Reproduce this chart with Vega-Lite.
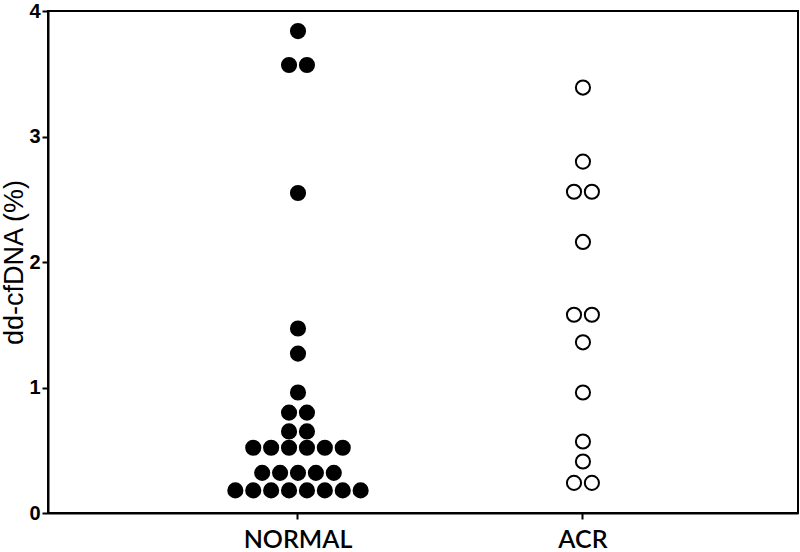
{
  "$schema": "https://vega.github.io/schema/vega-lite/v6.json",
  "width": 750,
  "height": 502,
  "autosize": "none",
  "padding": {"left": 48, "top": 11, "right": 2, "bottom": 39},
  "background": "white",
  "config": {
    "view": {"stroke": "black", "strokeWidth": 2},
    "axis": {
      "grid": false,
      "domainColor": "black",
      "domainWidth": 2,
      "tickColor": "black",
      "tickWidth": 2,
      "tickSize": 6,
      "labelColor": "black",
      "titleColor": "black"
    }
  },
  "data": {
    "values": [
      {"group": "NORMAL", "value": 3.84, "slot": 0},
      {"group": "NORMAL", "value": 3.57, "slot": -0.5},
      {"group": "NORMAL", "value": 3.57, "slot": 0.5},
      {"group": "NORMAL", "value": 2.55, "slot": 0},
      {"group": "NORMAL", "value": 1.47, "slot": 0},
      {"group": "NORMAL", "value": 1.27, "slot": 0},
      {"group": "NORMAL", "value": 0.96, "slot": 0},
      {"group": "NORMAL", "value": 0.8, "slot": -0.5},
      {"group": "NORMAL", "value": 0.8, "slot": 0.5},
      {"group": "NORMAL", "value": 0.65, "slot": -0.5},
      {"group": "NORMAL", "value": 0.65, "slot": 0.5},
      {"group": "NORMAL", "value": 0.52, "slot": -2.5},
      {"group": "NORMAL", "value": 0.52, "slot": -1.5},
      {"group": "NORMAL", "value": 0.52, "slot": -0.5},
      {"group": "NORMAL", "value": 0.52, "slot": 0.5},
      {"group": "NORMAL", "value": 0.52, "slot": 1.5},
      {"group": "NORMAL", "value": 0.52, "slot": 2.5},
      {"group": "NORMAL", "value": 0.32, "slot": -2},
      {"group": "NORMAL", "value": 0.32, "slot": -1},
      {"group": "NORMAL", "value": 0.32, "slot": 0},
      {"group": "NORMAL", "value": 0.32, "slot": 1},
      {"group": "NORMAL", "value": 0.32, "slot": 2},
      {"group": "NORMAL", "value": 0.18, "slot": -3.5},
      {"group": "NORMAL", "value": 0.18, "slot": -2.5},
      {"group": "NORMAL", "value": 0.18, "slot": -1.5},
      {"group": "NORMAL", "value": 0.18, "slot": -0.5},
      {"group": "NORMAL", "value": 0.18, "slot": 0.5},
      {"group": "NORMAL", "value": 0.18, "slot": 1.5},
      {"group": "NORMAL", "value": 0.18, "slot": 2.5},
      {"group": "NORMAL", "value": 0.18, "slot": 3.5},
      {"group": "ACR", "value": 3.39, "slot": 0},
      {"group": "ACR", "value": 2.8, "slot": 0},
      {"group": "ACR", "value": 2.56, "slot": -0.5},
      {"group": "ACR", "value": 2.56, "slot": 0.5},
      {"group": "ACR", "value": 2.16, "slot": 0},
      {"group": "ACR", "value": 1.58, "slot": -0.5},
      {"group": "ACR", "value": 1.58, "slot": 0.5},
      {"group": "ACR", "value": 1.36, "slot": 0},
      {"group": "ACR", "value": 0.96, "slot": 0},
      {"group": "ACR", "value": 0.57, "slot": 0},
      {"group": "ACR", "value": 0.41, "slot": 0},
      {"group": "ACR", "value": 0.24, "slot": -0.5},
      {"group": "ACR", "value": 0.24, "slot": 0.5}
    ]
  },
  "mark": {"type": "circle", "size": 200, "stroke": "black", "strokeWidth": 2, "opacity": 1},
  "encoding": {
    "x": {
      "field": "group",
      "type": "nominal",
      "sort": ["NORMAL", "ACR"],
      "scale": {"paddingInner": 0, "paddingOuter": 0.316, "align": 0.597},
      "axis": {"title": null, "labelAngle": 0, "labelFont": "Lato", "labelFontSize": 25, "labelFontWeight": 600, "labelPadding": 8}
    },
    "xOffset": {
      "field": "slot",
      "type": "quantitative",
      "scale": {"domain": [-7.96, 7.96]}
    },
    "y": {
      "field": "value",
      "type": "quantitative",
      "scale": {"domain": [0, 4], "nice": false, "zero": true},
      "axis": {
        "values": [0, 1, 2, 3, 4],
        "title": "dd-cfDNA (%)",
        "titleFont": "Liberation Sans",
        "titleFontSize": 27,
        "titleFontWeight": "normal",
        "titlePadding": 0,
        "labelFont": "Liberation Sans",
        "labelFontSize": 20,
        "labelFontWeight": "bold",
        "labelPadding": 2
      }
    },
    "fill": {
      "field": "group",
      "type": "nominal",
      "scale": {"domain": ["NORMAL", "ACR"], "range": ["black", "white"]},
      "legend": null
    }
  }
}
